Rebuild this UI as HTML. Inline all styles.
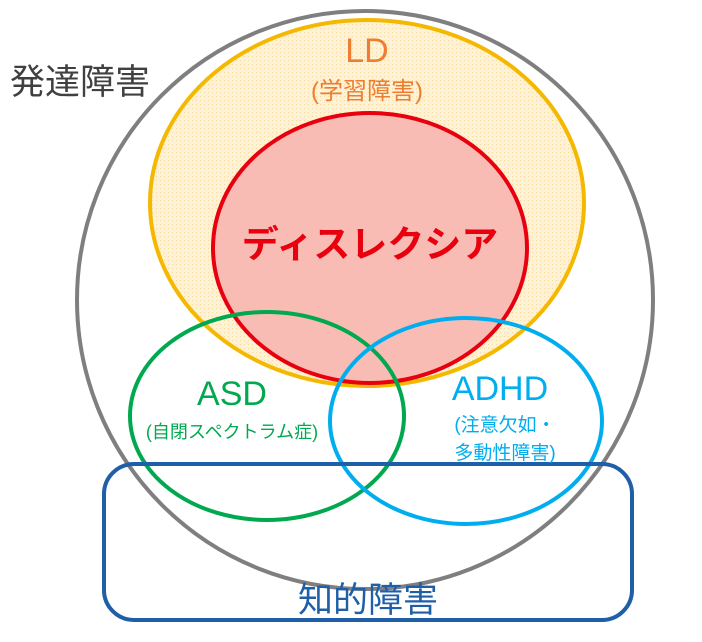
<!DOCTYPE html>
<html><head><meta charset="utf-8"><style>
html,body{margin:0;padding:0;background:#fff;width:702px;height:642px;overflow:hidden}
svg{display:block}
text{font-family:"Liberation Sans","Noto Sans CJK JP",sans-serif}
</style></head><body>
<svg width="702" height="642" viewBox="0 0 702 642">
<defs>
<pattern id="dots" width="4" height="4" patternUnits="userSpaceOnUse">
<rect width="4" height="4" fill="#fdf1d6"/>
<rect width="1" height="1" fill="#f5d9a0"/>
</pattern>
</defs>
<ellipse cx="365" cy="300" rx="288" ry="289" fill="#fff" stroke="#7f7f7f" stroke-width="4"/>
<ellipse cx="367" cy="203" rx="217" ry="183" fill="url(#dots)" stroke="#f5b800" stroke-width="4"/>
<ellipse cx="370" cy="248" rx="157" ry="135" fill="#f8bcb4" stroke="#e8000e" stroke-width="4"/>
<ellipse cx="267" cy="416" rx="137" ry="104" fill="none" stroke="#00a84f" stroke-width="4"/>
<ellipse cx="466" cy="421" rx="136" ry="103" fill="none" stroke="#00aeef" stroke-width="4"/>
<rect x="104" y="464" width="528" height="156" rx="30" fill="none" stroke="#1f5fa8" stroke-width="4"/>
<text x="10" y="94" font-size="35" fill="#404040">発達障害</text>
<text x="367" y="62" font-size="34" fill="#ed7d31" text-anchor="middle">LD</text>
<text x="367" y="99" font-size="24" fill="#ed7d31" text-anchor="middle">(学習障害)</text>
<text x="370" y="257" font-size="37" font-weight="bold" fill="#e8000e" text-anchor="middle">ディスレクシア</text>
<text x="232" y="405" font-size="34" fill="#00a84f" text-anchor="middle">ASD</text>
<text x="232" y="438" font-size="18" fill="#00a84f" text-anchor="middle">(自閉スペクトラム症)</text>
<text x="500" y="400" font-size="34" fill="#00aeef" text-anchor="middle">ADHD</text>
<text x="505" y="431" font-size="19" fill="#00aeef" text-anchor="middle">(注意欠如・</text>
<text x="505" y="459" font-size="19" fill="#00aeef" text-anchor="middle">多動性障害)</text>
<text x="368" y="612" font-size="35" fill="#1f5fa8" text-anchor="middle">知的障害</text>
</svg>
</body></html>
